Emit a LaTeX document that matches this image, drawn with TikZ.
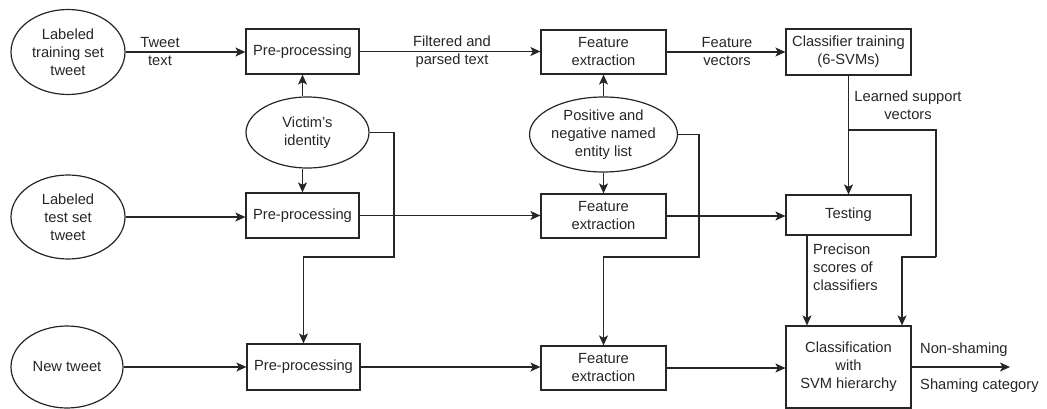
\documentclass[tikz,border=0pt]{standalone}
\usepackage{fontspec}
\setmainfont{Liberation Sans}
\usetikzlibrary{shapes.geometric,arrows.meta}
\begin{document}
\begin{tikzpicture}[x=1pt,y=-1pt,
  every node/.style={font=\fontsize{14.7}{18}\selectfont, text=black!85},
  box/.style={draw=black!85, line width=1.2pt, rectangle, inner sep=0pt, align=center},
  oval/.style={draw=black!85, line width=1.2pt, ellipse, inner sep=0pt, align=center},
  arr/.style={draw=black!85, line width=1.2pt, -{Stealth[length=10pt,width=9pt,inset=2.5pt]}},
  plain/.style={draw=black!85, line width=1.2pt},
  lbl/.style={align=center, inner sep=0pt}]
\useasboundingbox (0,0) rectangle (1047,409);
% ellipses
\node[oval, minimum width=114, minimum height=85] (e1) at (68,52) {Labeled\\training set\\tweet};
\node[oval, minimum width=114, minimum height=84] (e2) at (68,217) {Labeled\\test set\\tweet};
\node[oval, minimum width=112, minimum height=82] (e3) at (67,367) {New tweet};
\node[oval, minimum width=123, minimum height=71] (v) at (307.5,132.5) {Victim’s\\identity};
\node[oval, minimum width=141, minimum height=75] (pn) at (603.5,134.5) {Positive and\\negative named\\entity list};
% boxes
\node[box, minimum width=113, minimum height=45] (pp1) at (302.5,51.5) {Pre-processing};
\node[box, minimum width=113, minimum height=45] (pp2) at (302.5,215.5) {Pre-processing};
\node[box, minimum width=113, minimum height=46] (pp3) at (303.5,367) {Pre-processing};
\node[box, minimum width=125, minimum height=44] (fe1) at (603.5,52) {Feature\\extraction};
\node[box, minimum width=125, minimum height=44] (fe2) at (603.5,216) {Feature\\extraction};
\node[box, minimum width=125, minimum height=44] (fe3) at (603.5,368) {Feature\\extraction};
\node[box, minimum width=125, minimum height=46] (ct) at (848.5,52) {Classifier training\\(6-SVMs)};
\node[box, minimum width=125, minimum height=40] (te) at (848.5,215) {Testing};
\node[box, minimum width=125, minimum height=82] (cl) at (848.5,367) {Classification\\with\\SVM hierarchy};
% coordinates
\coordinate (j1) at (394,257);
\coordinate (j2) at (699,257);
\coordinate (b1) at (848.5,130);
\coordinate (b2) at (936,257);
\coordinate (c2) at (902,0);
\coordinate (c3) at (807,0);
\coordinate (out) at (1010,367);
% row 1
\draw[arr] (e1.east) -- (pp1.west |- e1.east);
\draw[arr] (pp1.east) -- (fe1.west |- pp1.east);
\draw[arr] (fe1.east) -- (ct.west |- fe1.east);
% row 2
\draw[arr] (e2.east) -- (pp2.west |- e2.east);
\draw[arr] (pp2.east) -- (fe2.west |- pp2.east);
\draw[arr] (fe2.east) -- (te.west |- fe2.east);
% row 3
\draw[arr] (e3.east) -- (pp3.west |- e3.east);
\draw[arr] (pp3.east) -- (fe3.west |- pp3.east);
\draw[arr] (fe3.east) -- (cl.west |- fe3.east);
% victim identity
\draw[arr] (pp1.south |- v.north) -- (pp1.south);
\draw[arr] (pp2.north |- v.south) -- (pp2.north);
\draw[arr] (v.east) -| (j1) -| (pp3.north);
% named entity list
\draw[arr] (fe1.south |- pn.north) -- (fe1.south);
\draw[arr] (fe2.north |- pn.south) -- (fe2.north);
\draw[arr] (pn.east) -| (j2) -| (fe3.north);
% classifier
\draw[arr] (ct.south) -- (te.north);
\draw[plain] (b1) -| (b2);
\draw[arr] (b2) -| (c2 |- cl.north);
\draw[arr] (c3 |- te.south) -- (c3 |- cl.north);
\draw[arr] (cl.east) -- (out);
% labels
\node[lbl] (l1) at (160,52) {Tweet\\text};
\node[lbl] (l2) at (452,52) {Filtered and\\parsed text};
\node[lbl] (l3) at (727,52) {Feature\\vectors};
\node[lbl] (l4) at (908,105) {Learned support\\vectors};
\node[lbl, align=left, anchor=west] (l5) at (813,267) {Precison\\scores of\\classifiers};
\node[lbl, anchor=west] (l6) at (920,350) {Non-shaming};
\node[lbl, anchor=west] (l7) at (920,386) {Shaming category};
\end{tikzpicture}
\end{document}
